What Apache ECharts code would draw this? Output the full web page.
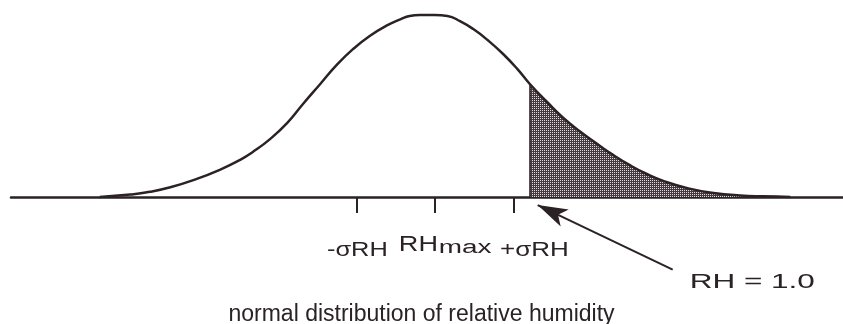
<!DOCTYPE html>
<html>
<head>
<meta charset="utf-8">
<script src="https://cdn.jsdelivr.net/npm/echarts@6/dist/echarts.min.js"></script>
<style>
  html, body { margin: 0; padding: 0; background: #fff; }
  #chart { width: 843px; height: 324px; }
</style>
</head>
<body>
<div id="chart"></div>
<script>
// x: distance from RHmax in tick units (ticks at -σ, RHmax, +σ), y: height relative to the peak
var curveX = [-4.27, -3.88, -3.63, -3.37, -3.06, -2.74, -2.48, -2.32, -2.1, -1.88, -1.68, -1.46, -1.25, -1.04, -0.83, -0.61, -0.44, -0.32, -0.19, 0,
  0.16, 0.32, 0.49, 0.68, 0.87, 1.05, 1.21, 1.43, 1.63, 1.85, 2.07, 2.27, 2.49, 2.7, 2.91, 3.23, 3.55, 3.89, 4.18, 4.53];
var curveY = [0, 0.013, 0.028, 0.053, 0.095, 0.149, 0.204, 0.247, 0.318, 0.407, 0.511, 0.621, 0.726, 0.814, 0.885, 0.943, 0.976, 0.995, 1.0, 1.0,
  0.995, 0.967, 0.923, 0.86, 0.786, 0.704, 0.621, 0.522, 0.437, 0.36, 0.291, 0.231, 0.173, 0.126, 0.088, 0.047, 0.022, 0.008, 0.003, 0];
var tickValues = [-1, 0, 1];
var tickLabels = ['-σRH', 'RH', '+σRH'];
var subLabel = 'max';
var cutX = 1.21;               // RH = 1.0, start of the shaded tail
var arrowFrom = [3.03, -0.40];
var arrowTo = [1.31, -0.045];
var noteText = 'RH = 1.0';

var ink = '#2b2226';
var font = 'Liberation Sans, Arial, sans-serif';

var curveData = curveX.map(function (x, i) { return [x, curveY[i]]; });
var tailData = curveData.filter(function (p) { return p[0] >= cutX; });
var cutY = curveY[curveX.indexOf(cutX)];

// dotted screen for the tail
var pat = document.createElement('canvas');
pat.width = 2; pat.height = 2;
var pctx = pat.getContext('2d');
pctx.fillStyle = '#443a3f';
pctx.fillRect(0, 0, 2, 2);
pctx.fillStyle = '#dedcdd';
pctx.fillRect(0, 0, 1, 1);

var chart = echarts.init(document.getElementById('chart'));
var option = {
  animation: false,
  title: {
    text: 'normal distribution of relative humidity',
    left: 'center',
    top: 298,
    textStyle: { fontFamily: font, fontSize: 23, fontWeight: 'normal', color: ink }
  },
  grid: { left: 11, right: 0, top: 6, bottom: 18, outerBoundsMode: 'none' },
  xAxis: {
    type: 'value',
    min: -5.4,
    max: 5.2,
    splitLine: { show: false },
    axisLine: { onZero: true, lineStyle: { color: ink, width: 2.5 } },
    axisTick: { customValues: tickValues, length: 16, lineStyle: { color: ink, width: 2 } },
    axisLabel: { show: false }
  },
  yAxis: {
    type: 'value',
    min: -0.6,
    max: 1.05,
    show: false
  },
  series: [
    {
      type: 'line',
      data: tailData,
      smooth: 0.5,
      symbol: 'none',
      lineStyle: { width: 0 },
      areaStyle: { color: { image: pat, repeat: 'repeat' }, opacity: 1 },
      z: 1,
      markLine: {
        silent: true,
        symbol: ['none', 'none'],
        label: { show: false },
        lineStyle: { color: ink, width: 1.5, type: 'solid' },
        data: [[{ coord: [cutX, 0] }, { coord: [cutX, cutY] }]]
      }
    },
    {
      type: 'line',
      data: curveData,
      smooth: 0.5,
      symbol: 'none',
      lineStyle: { color: ink, width: 2.5 },
      z: 3,
      markLine: {
        silent: true,
        symbol: ['none', 'arrow'],
        symbolSize: [14, 30],
        label: { show: false },
        lineStyle: { color: ink, width: 2, type: 'solid' },
        data: [[{ coord: arrowFrom }, { coord: arrowTo }]]
      }
    }
  ]
};
chart.setOption(option);

// the labels in the scan are drawn wider than the font, so they are stretched with scaleX
function label(text, x, baseline, size, sx, align) {
  return {
    type: 'text',
    x: x,
    y: baseline - 0.3465 * size,
    scaleX: sx,
    silent: true,
    style: { text: text, fontFamily: font, fontSize: size, fill: ink, align: align, verticalAlign: 'middle' }
  };
}
var t = tickValues.map(function (v) { return chart.convertToPixel({ gridIndex: 0 }, [v, 0]); });
var a = chart.convertToPixel({ gridIndex: 0 }, arrowFrom);
chart.setOption({
  graphic: [
    label(tickLabels[0], t[0][0] + 1, t[0][1] + 61, 20, 1.27, 'center'),
    label(tickLabels[1], t[1][0] - 36, t[1][1] + 55.5, 22, 1.23, 'left'),
    label(subLabel, t[1][0] + 4, t[1][1] + 57, 18, 1.55, 'left'),
    label(tickLabels[2], t[2][0] + 21, t[2][1] + 61, 20, 1.3, 'center'),
    label(noteText, a[0] + 17, a[1] + 20, 21, 1.5, 'left')
  ]
});
</script>
</body>
</html>
